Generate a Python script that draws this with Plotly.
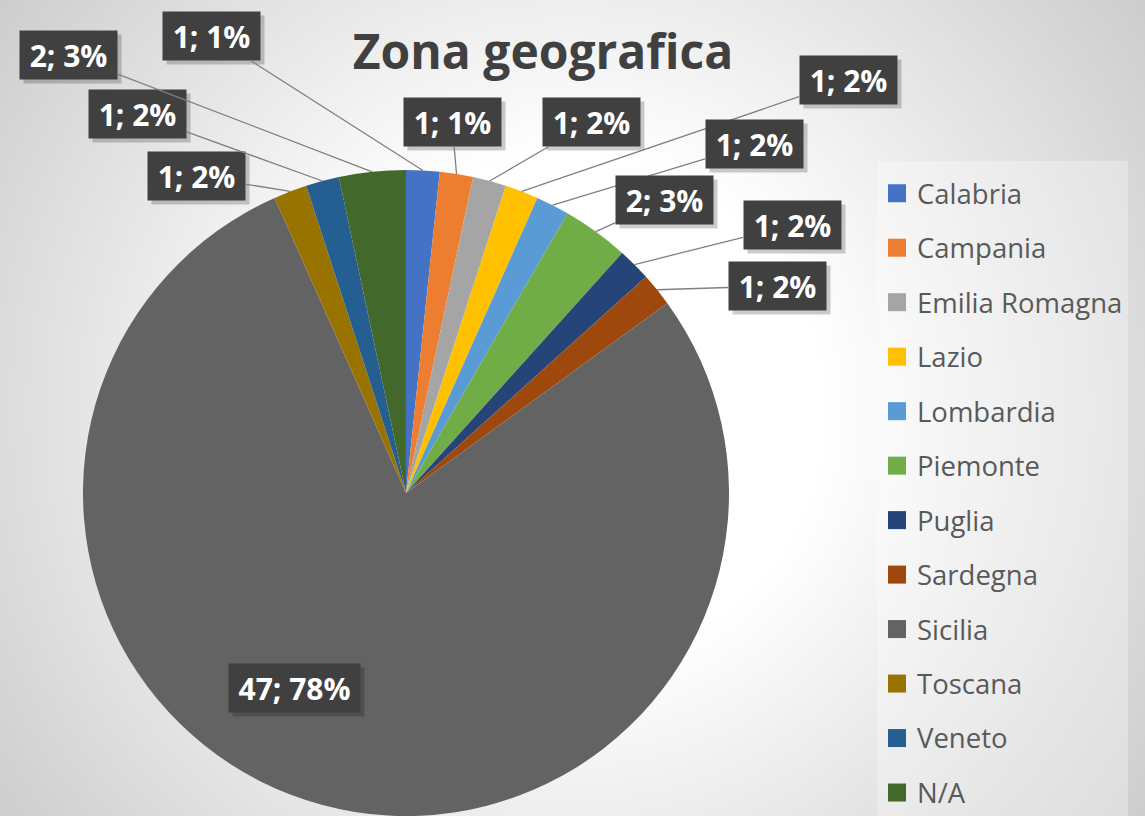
import math
import base64
import plotly.graph_objects as go

# ---------------- data ----------------
regions = ["Calabria", "Campania", "Emilia Romagna", "Lazio", "Lombardia", "Piemonte",
           "Puglia", "Sardegna", "Sicilia", "Toscana", "Veneto", "N/A"]
counts = [1, 1, 1, 1, 1, 2, 1, 1, 47, 1, 1, 2]
pct_labels = ["1%", "1%", "2%", "2%", "2%", "3%", "2%", "2%", "78%", "2%", "2%", "3%"]

# ---------------- style ----------------
colors = ["#4472C4", "#ED7D31", "#A5A5A5", "#FFC000", "#5B9BD5", "#70AD47",
          "#264478", "#9E480E", "#636363", "#997300", "#255E91", "#43682B"]

W, H = 1145, 816
PIE_CX, PIE_CY, PIE_R = 406, 493, 323

# manually placed label boxes (pixel centres), as in the original chart
label_pos = [(212, 36), (452, 122), (591, 122), (848, 80), (754, 144), (665, 200),
             (792, 225), (777, 286), (294, 688), (196, 176), (137, 114), (68, 55)]
inside_label = "Sicilia"

FONT = "Open Sans"

# background radial gradient (svg data uri)
svg = f"""<svg xmlns='http://www.w3.org/2000/svg' width='{W}' height='{H}'>
<defs><radialGradient id='g' gradientUnits='userSpaceOnUse' cx='570' cy='410' r='720'>
<stop offset='0' stop-color='#ffffff'/><stop offset='0.35' stop-color='#ffffff'/>
<stop offset='1' stop-color='#cbcbcb'/></radialGradient></defs>
<rect width='{W}' height='{H}' fill='url(#g)'/></svg>"""
bg_uri = "data:image/svg+xml;base64," + base64.b64encode(svg.encode()).decode()

legend_labels = [f"<span style='font-size:27.5px;baseline-shift:5.5px'>{r}</span>" for r in regions]

fig = go.Figure(go.Pie(
    labels=legend_labels,
    values=counts,
    sort=False,
    direction="clockwise",
    rotation=0,
    marker=dict(colors=colors, line=dict(width=0)),
    textinfo="none",
    hoverinfo="skip",
    domain=dict(x=[(PIE_CX - PIE_R) / W, (PIE_CX + PIE_R) / W],
                y=[0, 2 * PIE_R / H]),
))

# ---------------- labels ----------------
total = sum(counts)
cum = 0
annotations = []
for reg, v, pct, (lx, ly) in zip(regions, counts, pct_labels, label_pos):
    theta = 2 * math.pi * (cum + v / 2) / total
    cum += v
    px = PIE_CX + PIE_R * math.sin(theta)
    py = PIE_CY - PIE_R * math.cos(theta)
    txt = f"{v}; {pct}"
    box_w = 17 * len(txt) + 2
    common = dict(xref="paper", yref="paper", borderpad=5, width=box_w, height=38)
    if reg == inside_label:
        geo = dict(x=lx / W, y=1 - ly / H, showarrow=False,
                   xanchor="center", yanchor="middle")
    else:
        geo = dict(x=px / W, y=1 - py / H, showarrow=True, arrowhead=0,
                   ax=lx - px, ay=ly - py, standoff=0)
    # soft shadow behind the label box
    annotations.append(dict(text=" ", bgcolor="rgba(0,0,0,0.2)", xshift=4, yshift=-4,
                            arrowcolor="rgba(0,0,0,0)", font=dict(size=28),
                            **common, **geo))
    annotations.append(dict(text=txt, bgcolor="#404040", arrowcolor="#808080",
                            arrowwidth=1.3,
                            font=dict(family=FONT, size=30, weight="bold", color="white"),
                            **common, **geo))

fig.update_layout(
    width=W, height=H,
    margin=dict(l=0, r=0, t=0, b=0, autoexpand=False),
    paper_bgcolor="#e6e6e6",
    title=dict(text="Zona geografica", x=543 / W, xanchor="center",
               y=1 - 52 / H, yanchor="middle", yref="container",
               font=dict(family=FONT, size=48, weight="bold", color="#404040")),
    showlegend=True,
    legend=dict(x=877 / W, xanchor="left", y=1 - 161 / H, yanchor="top",
                bgcolor="rgba(255,255,255,0.3)",
                font=dict(family=FONT, size=39.6, color="#595959"),
                traceorder="normal"),
    annotations=annotations,
    images=[dict(source=bg_uri, xref="paper", yref="paper", x=0, y=1,
                 sizex=1, sizey=1, sizing="stretch", layer="below",
                 xanchor="left", yanchor="top")],
)

post = ("document.body.style.margin='0';"
        "document.querySelectorAll('.legendpie').forEach(function(p){"
        "p.setAttribute('d','M9,9H-9V-9H9Z');});")

fig.write_html("out.html", config={"displayModeBar": False}, post_script=post)
